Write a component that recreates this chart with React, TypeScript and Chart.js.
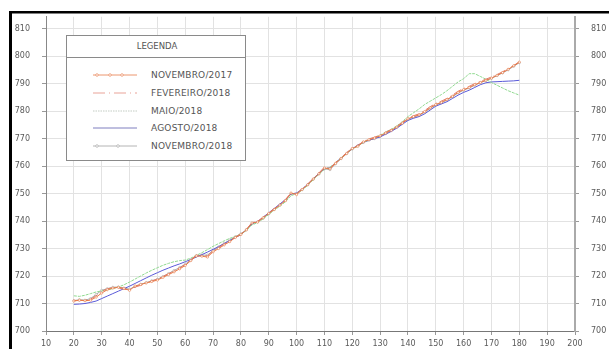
import React, { useEffect, useRef } from "react";
import { Chart, registerables } from "chart.js";

Chart.register(...registerables);

const X_VALUES = [
  20, 22, 24, 26, 28, 30, 32, 34, 36, 38, 40, 42, 44, 46, 48, 50, 52, 54, 56, 58,
  60, 62, 64, 66, 68, 70, 72, 74, 76, 78, 80, 82, 84, 86, 88, 90, 92, 94, 96, 98,
  100, 102, 104, 106, 108, 110, 112, 114, 116, 118, 120, 122, 124, 126, 128, 130,
  132, 134, 136, 138, 140, 142, 144, 146, 148, 150, 152, 154, 156, 158, 160, 162,
  164, 166, 168, 170, 172, 174, 176, 178, 180,
];

const NOV_2017 = [
  710.9, 711.2, 711.0, 711.2, 712.3, 713.8, 715.0, 715.6, 715.9, 715.5, 714.8, 716.4, 716.9, 717.5, 718.0, 718.5, 719.5, 720.5, 721.5, 722.6,
  723.8, 725.6, 727.3, 727.2, 726.9, 728.8, 730.0, 731.3, 732.5, 734.0, 735.1, 736.8, 739.3, 739.6, 741.2, 742.8, 744.2, 745.8, 747.4, 750.2,
  749.6, 751.5, 753.2, 755.3, 757.2, 759.3, 759.0, 761.0, 762.8, 764.6, 766.4, 767.2, 768.8, 769.6, 770.2, 771.0,
  772.0, 773.0, 774.2, 775.6, 777.2, 778.0, 778.6, 779.8, 781.2, 782.4, 783.2, 784.2, 785.4, 786.8, 787.8, 788.6,
  789.6, 790.4, 791.2, 792.0, 793.0, 794.0, 795.2, 796.5, 797.8,
];

const FEV_2018 = [
  711.2, 711.0, 711.3, 711.6, 712.8, 714.4, 715.3, 715.8, 715.7, 715.2, 715.0, 716.0, 716.6, 717.3, 718.2, 718.9, 719.9, 720.8, 721.9, 723.0,
  724.2, 725.9, 727.6, 727.4, 727.3, 729.2, 730.4, 731.6, 732.8, 734.2, 735.3, 737.0, 739.5, 739.9, 741.4, 743.0, 744.5, 746.0, 747.8, 750.4,
  749.9, 751.8, 753.5, 755.5, 757.5, 759.6, 759.2, 761.3, 763.1, 764.9, 766.6, 767.5, 769.0, 769.9, 770.5, 771.3,
  772.3, 773.3, 774.5, 775.9, 777.5, 778.3, 779.0, 780.2, 781.6, 782.8, 783.6, 784.6, 785.8, 787.2, 788.2, 789.0,
  790.0, 790.8, 791.6, 792.4, 793.3, 794.3, 795.4, 796.6, 797.9,
];

const MAI_2018 = [
  712.8, 712.6, 713.0, 713.6, 714.2, 714.6, 714.9, 715.4, 716.0, 716.8, 717.8, 718.9, 720.0, 721.1, 722.1, 723.0, 723.9, 724.6, 725.2, 725.6,
  725.8, 726.5, 727.5, 728.5, 729.6, 730.8, 731.8, 732.8, 733.7, 734.4, 735.2, 736.6, 738.6, 739.4, 740.8, 742.4, 744.0, 745.4, 747.0, 749.2,
  750.0, 751.2, 753.0, 755.0, 757.0, 758.8, 759.6, 761.2, 763.0, 764.8, 766.2, 767.2, 768.6, 769.6, 770.4, 771.2,
  772.4, 773.4, 774.6, 776.2, 778.0, 779.4, 780.8, 782.4, 783.6, 784.8, 786.0, 787.4, 789.0, 790.6, 791.8, 793.6,
  793.6, 792.6, 791.6, 790.4, 789.4, 788.4, 787.4, 786.6, 785.8,
];

const AGO_2018 = [
  709.7, 709.8, 710.0, 710.4, 710.9, 711.8, 712.7, 713.6, 714.5, 715.4, 716.3, 717.3, 718.3, 719.3, 720.3, 721.2, 722.1, 722.9, 723.7, 724.4,
  725.2, 726.0, 726.9, 727.8, 728.7, 729.7, 730.7, 731.8, 732.9, 734.0, 735.0, 736.8, 739.0, 739.8, 741.4, 743.0, 744.6, 746.2, 747.8, 749.8,
  750.2, 751.6, 753.4, 755.4, 757.4, 759.0, 759.4, 761.2, 763.0, 764.8, 766.3, 767.6, 768.6, 769.4, 770.0, 770.6,
  771.6, 772.6, 773.8, 775.2, 776.6, 777.4, 778.0, 779.0, 780.4, 781.8, 782.6, 783.4, 784.6, 785.8, 786.8, 787.6,
  788.6, 789.6, 790.3, 790.6, 790.7, 790.8, 790.9, 791.0, 791.2,
];

const NOV_2018 = [
  711.0, 711.4, 711.2, 711.8, 713.3, 714.8, 715.4, 715.9, 716.0, 715.6, 715.2, 716.2, 717.0, 717.6, 718.3, 718.8, 719.8, 720.9, 722.0, 723.1,
  724.3, 725.8, 727.4, 727.6, 727.6, 729.3, 730.6, 731.9, 733.1, 734.3, 735.4, 736.9, 739.2, 739.7, 741.0, 742.6, 744.2, 745.8, 747.5, 749.9,
  750.0, 751.4, 753.2, 755.2, 757.1, 759.0, 758.7, 760.8, 762.7, 764.5, 766.2, 767.4, 768.6, 769.4, 770.0, 770.8,
  771.8, 772.9, 774.1, 775.5, 777.0, 777.8, 778.4, 779.6, 781.0, 782.2, 783.0, 784.0, 785.2, 786.6, 787.6, 788.4,
  789.4, 790.3, 791.1, 791.9, 792.9, 793.9, 795.0, 796.3, 797.6,
];

const SERIES_NAMES = ["NOVEMBRO/2017", "FEVEREIRO/2018", "MAIO/2018", "AGOSTO/2018", "NOVEMBRO/2018"];
const SERIES_VALUES = [NOV_2017, FEV_2018, MAI_2018, AGO_2018, NOV_2018];
const SERIES_COLORS = ["#ea7a46", "#e0786a", "#8fd98f", "#5a5ad8", "#a8a8a8"];
const LEGEND_COLORS = ["#ea8a5e", "#e6988c", "#bcc6bc", "#7070b8", "#ababab"];
const SERIES_DASH: number[][] = [[], [9, 3, 1, 3], [3, 1], [], []];
const LEGEND_DASH: number[][] = [[], [12, 4, 1, 4], [1.5, 1], [], []];
const SERIES_MARKERS = [true, false, false, false, true];

const LEGEND_TITLE = "LEGENDA";
const X_MIN = 10;
const X_MAX = 200;
const Y_MIN = 700;
const Y_MAX = 814.3;

const FONT = "'DejaVu Sans', sans-serif";

const framePlugin = {
  id: "frame",
  afterDraw(chart: any) {
    const ctx = chart.ctx;
    ctx.save();
    ctx.fillStyle = "#000";
    ctx.fillRect(9, 11, 3, chart.height - 11);
    ctx.fillRect(9, 11, chart.width - 9, 2.5);
    ctx.restore();
  },
};

function keepDecades(scale: any) {
  scale.ticks = scale.ticks.filter((t: any) => Math.abs(t.value % 10) < 1e-6);
}

function LegendSample({ i }: { i: number }) {
  const color = LEGEND_COLORS[i];
  const dash = LEGEND_DASH[i];
  const markers = SERIES_MARKERS[i];
  const markerXs = i === 0 ? [4, 17, 29] : [4, 25];
  return (
    <svg width={46} height={8} style={{ display: "block" }}>
      <line
        x1={0}
        y1={4}
        x2={44}
        y2={4}
        stroke={color}
        strokeWidth={0.9}
        strokeDasharray={dash.length ? dash.join(",") : undefined}
      />
      {markers &&
        markerXs.map((mx) => (
          <circle key={mx} cx={mx} cy={4} r={1.3} fill="#fff" stroke={color} strokeWidth={0.7} />
        ))}
    </svg>
  );
}

export default function App() {
  const canvasRef = useRef<HTMLCanvasElement | null>(null);

  useEffect(() => {
    if (!canvasRef.current) return;
    const datasets = SERIES_NAMES.map((name, i) => ({
      label: name,
      data: X_VALUES.map((x, k) => ({ x, y: SERIES_VALUES[i][k] })),
      borderColor: SERIES_COLORS[i],
      backgroundColor: SERIES_COLORS[i],
      borderWidth: 1,
      borderDash: SERIES_DASH[i],
      pointRadius: SERIES_MARKERS[i] ? 1.1 : 0,
      pointBackgroundColor: "#fff",
      pointBorderColor: SERIES_COLORS[i],
      pointBorderWidth: 0.6,
      tension: 0,
      fill: false,
    }));
    const tickFont = { family: FONT, size: 8 };
    const yCommon = {
      type: "linear" as const,
      min: Y_MIN,
      max: Y_MAX,
      afterBuildTicks: keepDecades,
      ticks: { stepSize: 10, font: tickFont, color: "#5a5a5a", padding: 12 },
    };
    const chart = new Chart(canvasRef.current, {
      type: "line",
      data: { datasets },
      options: {
        responsive: false,
        animation: false,
        layout: { padding: { top: 13, left: 0, right: 0, bottom: 0 } },
        plugins: { legend: { display: false }, tooltip: { enabled: false } },
        scales: {
          x: {
            type: "linear",
            min: X_MIN,
            max: X_MAX,
            ticks: { stepSize: 10, font: tickFont, color: "#5a5a5a", padding: 4, maxRotation: 0 },
            grid: { color: "#e2e2e2", tickColor: "#999", tickLength: 4 },
            border: { color: "#777", width: 1 },
            afterFit: (s: any) => {
              s.height = 18;
            },
          },
          y: {
            ...yCommon,
            position: "left",
            grid: { color: "#e2e2e2", tickColor: "#999", tickLength: 4 },
            border: { color: "#888", width: 1 },
            afterFit: (s: any) => {
              s.width = 46;
            },
          },
          y2: {
            ...yCommon,
            position: "right",
            grid: { drawOnChartArea: false, tickColor: "#999", tickLength: 4 },
            border: { color: "#aaa", width: 2 },
            afterFit: (s: any) => {
              s.width = 34;
            },
          },
        },
      },
      plugins: [framePlugin],
    } as any);
    return () => chart.destroy();
  }, []);

  return (
    <div style={{ position: "absolute", left: 0, top: 0, width: 609, height: 349, background: "#fff" }}>
      <canvas ref={canvasRef} width={609} height={349} style={{ display: "block" }} />
      <div
        style={{
          position: "absolute",
          left: 66,
          top: 35,
          width: 178,
          height: 124,
          background: "#fff",
          border: "1px solid #8a8a8a",
          fontFamily: FONT,
          color: "#555",
        }}
      >
        <div
          style={{
            height: 21,
            borderBottom: "1px solid #8a8a8a",
            fontSize: 8.5,
            lineHeight: "21px",
            textAlign: "center",
            paddingLeft: 2,
          }}
        >
          {LEGEND_TITLE}
        </div>
        {SERIES_NAMES.map((name, i) => (
          <div
            key={name}
            style={{
              position: "absolute",
              left: 26,
              top: 34 + i * 17.8,
              height: 10,
              display: "flex",
              alignItems: "center",
            }}
          >
            <LegendSample i={i} />
            <span style={{ marginLeft: 12, fontSize: 9, lineHeight: "10px", whiteSpace: "nowrap", letterSpacing: 0.2 }}>
              {name}
            </span>
          </div>
        ))}
      </div>
    </div>
  );
}
